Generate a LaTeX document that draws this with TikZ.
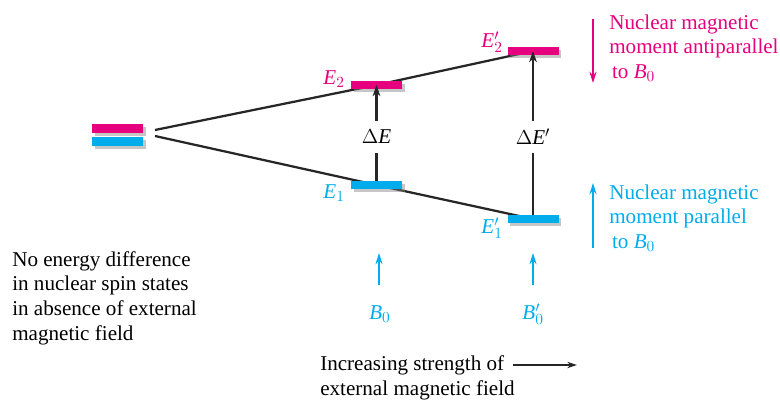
\documentclass[tikz,border=0pt]{standalone}
\usepackage{fontspec}
\setmainfont{Liberation Serif}
\usetikzlibrary{shadows,arrows.meta,backgrounds}
\definecolor{spinup}{RGB}{0,172,236}
\definecolor{spindown}{RGB}{230,0,126}
\begin{document}
\begin{tikzpicture}[x=0.025cm, y=-0.025cm,
    level/.style={fill, minimum width=1.275cm, minimum height=0.21cm, inner sep=0pt,
        drop shadow={shadow xshift=0.07cm, shadow yshift=-0.07cm, opacity=0.45}},
    split/.style={line width=1.6pt, black!85},
    gap/.style={-{Stealth[length=8pt,width=5.5pt]}, line width=1.6pt, black!85},
    spin/.style={-{Stealth[length=8pt,width=5pt]}, line width=1.3pt},
    lbl/.style={font=\fontsize{15}{17.5}\selectfont, inner sep=0pt},
    txt/.style={font=\fontsize{15}{17.5}\selectfont, align=left, inner sep=0pt}
]
\useasboundingbox (0,0) rectangle (780,400);

% Energieniveaus
\node[level, spindown] (z2) at (117.5,128.5) {};
\node[level, spinup] (z1) at (117.5,141.5) {};
\node[level, spindown] (e2) at (376.5,85) {};
\node[level, spinup] (e1) at (376.5,185) {};
\node[level, spindown] (e2p) at (533,51) {};
\node[level, spinup] (e1p) at (533,219) {};

\coordinate (zt) at (155,130);
\coordinate (zb) at (155,136);
\begin{scope}[on background layer]
\draw[split] (zt) -- (e2.center) -- (e2p.center);
\draw[split] (zb) -- (e1.center) -- (e1p.center);
\end{scope}

\node[lbl, spindown, anchor=east] (le2) at (345,79) {$\mathit{E}_2$};
\node[lbl, spinup, anchor=east] (le1) at (345,193) {$\mathit{E}_1$};
\node[lbl, spindown, anchor=east] (le2p) at (503,42) {$\mathit{E}'_2$};
\node[lbl, spinup, anchor=east] (le1p) at (503,228) {$\mathit{E}'_1$};

% Energiedifferenz
\node[lbl, minimum height=0.8cm] (de) at (376.5,137) {$\Delta\mathit{E}$};
\node[lbl, minimum height=0.8cm] (dep) at (533,137) {$\Delta\mathit{E}'$};
\draw[split] (e1.north) -- (de.south);
\draw[gap] (de.north) -- (e2.center);
\draw[split] (e1p.north) -- (dep.south);
\draw[gap] (dep.north) -- (e2p.center);

% Aeusseres Feld
\coordinate (b0s) at (379,285);
\coordinate (b0e) at (379,253);
\coordinate (b1s) at (533,285);
\coordinate (b1e) at (533,253);
\draw[spin, spinup] (b0s) -- (b0e);
\draw[spin, spinup] (b1s) -- (b1e);
\node[lbl, spinup] (b0) at (380,314) {$\mathit{B}_0$};
\node[lbl, spinup] (b1) at (533,314) {$\mathit{B}'_0$};

% Spinrichtungen
\coordinate (as) at (593,19);
\coordinate (ae) at (593,83);
\coordinate (ps) at (593,248);
\coordinate (pe) at (593,183);
\draw[spin, spindown] (as) -- (ae);
\draw[spin, spinup] (ps) -- (pe);
\node[txt, spindown, anchor=west] (anti) at (609,48) {Nuclear magnetic\\moment antiparallel\\\hspace{2pt}to $\mathit{B}_0$};
\node[txt, spinup, anchor=west] (para) at (609,218) {Nuclear magnetic\\moment parallel\\\hspace{2pt}to $\mathit{B}_0$};

% Erklaerungen
\node[txt, anchor=west] (none) at (12,298) {No energy difference\\in nuclear spin states\\in absence of external\\magnetic field};
\node[txt, anchor=west] (incr) at (320,378) {Increasing strength of\\external magnetic field};
\coordinate (is) at (513,365);
\coordinate (ie) at (577,365);
\draw[-{Stealth[length=7pt,width=4.5pt]}, line width=0.9pt, black!85] (is) -- (ie);
\end{tikzpicture}
\end{document}
